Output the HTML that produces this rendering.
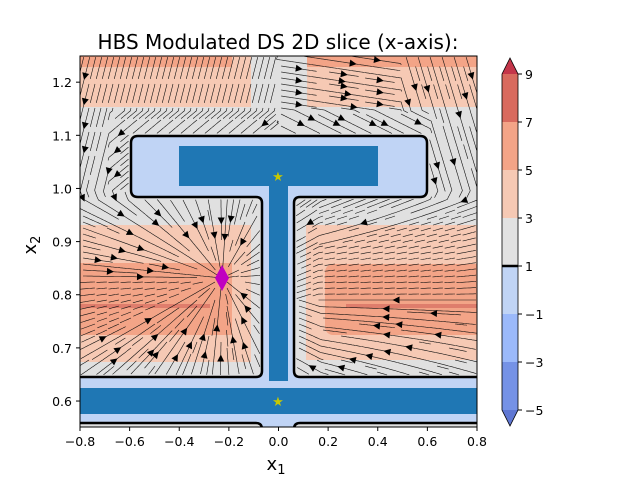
<!DOCTYPE html>
<html><head><meta charset="utf-8"><style>
body{margin:0;background:#fff}
svg text{font-family:"DejaVu Sans","Liberation Sans",sans-serif}
</style></head><body>
<svg id="chart" width="640" height="480" xmlns="http://www.w3.org/2000/svg">
<defs><clipPath id="pc"><rect x="80" y="56" width="397" height="371"/></clipPath></defs>
<g id="plot" clip-path="url(#pc)">
<rect x="80" y="56" width="397" height="371" fill="#e0e0e0"/>
<rect x="80" y="56" width="171" height="51" fill="#f6c9b4"/>
<rect x="307" y="56" width="170" height="51" fill="#f6c9b4"/>
<rect x="80" y="56" width="152" height="11" fill="#f3a487"/>
<rect x="307" y="56" width="170" height="11" fill="#f3a487"/>
<rect x="80" y="225" width="171" height="137" fill="#f6c9b4"/>
<rect x="80" y="263" width="152" height="72" fill="#f3a487"/>
<rect x="80" y="304" width="130" height="4" fill="#df7d6c"/>
<rect x="306" y="225" width="171" height="135" fill="#f6c9b4"/>
<rect x="325" y="264" width="160" height="71" rx="8" fill="#f3a487"/>
<rect x="346" y="304" width="131" height="4" fill="#df7d6c"/>
<path d="M131,143 Q131,136 138,136 L420,136 Q427,136 427,143 L427,190 Q427,197 420,197 L300,197 Q294,197 294,203 L294,371 Q294,377 300,377 L490,377 L490,423 L300,423 Q294,423 294,429 L262,429 Q262,423 256,423 L70,423 L70,377 L256,377 Q262,377 262,371 L262,203 Q262,197 256,197 L138,197 Q131,197 131,190 Z" fill="#c0d4f5" stroke="#000" stroke-width="2.5"/>
<rect x="179" y="146" width="199" height="40" fill="#1f77b4"/>
<rect x="269" y="186" width="19" height="195" fill="#1f77b4"/>
<rect x="80" y="388" width="397" height="26" fill="#1f77b4"/>
<g id="streams"></g>
<text x="278" y="181" font-size="13" fill="#c8c800" text-anchor="middle">★</text>
<text x="278" y="406" font-size="13" fill="#c8c800" text-anchor="middle">★</text>
<polygon points="222,265 229,278 222,291 215,278" fill="#c000c0"/>
</g>
<rect x="80" y="56" width="397" height="371" fill="none" stroke="#000" stroke-width="1"/>
<g id="axes"></g>
<text x="278" y="49" font-size="20" text-anchor="middle">HBS Modulated DS 2D slice (x-axis):</text>
<text x="276" y="470" font-size="18" text-anchor="middle">x<tspan font-size="13" dy="4">1</tspan></text>
<text x="36" y="245" font-size="18" text-anchor="middle" transform="rotate(-90 36 245)">x<tspan font-size="13" dy="4">2</tspan></text>
<g id="cbar"></g>
</svg>
<script>
const xTicks=[-0.8,-0.6,-0.4,-0.2,0.0,0.2,0.4,0.6,0.8];
const yTicks=[0.6,0.7,0.8,0.9,1.0,1.1,1.2];
const cbLevels=[-5,-3,-1,1,3,5,7,9];
const cbColors=["#7592e6","#9bb9fa","#c0d4f5","#e2e2e2","#f6c9b4","#f3a487","#d86a5e"];
const NS="http://www.w3.org/2000/svg";
const sx=v=>80+(v+0.8)/1.6*397;
const sy=v=>427.6-(v-0.55)/0.7*372;
function mk(t,a,p){const e=document.createElementNS(NS,t);for(const k in a)e.setAttribute(k,a[k]);p.appendChild(e);return e;}
const fmt=v=>(v<0?"\u2212":"")+Math.abs(v).toFixed(1);
const ax=document.getElementById('axes');
xTicks.forEach(v=>{const x=sx(v);
const l=mk('line',{x1:x,x2:x,y1:427,y2:431,stroke:'#000'},ax);


const t=mk('text',{x:x,y:446,'font-size':12.5,'text-anchor':'middle'},ax);t.textContent=fmt(v);

});
yTicks.forEach(v=>{const y=sy(v);
const l=mk('line',{x1:76,x2:80,y1:y,y2:y,stroke:'#000'},ax);


const t=mk('text',{x:72,y:y+5,'font-size':12.5,'text-anchor':'end'},ax);t.textContent=v.toFixed(1);

});
const cb=document.getElementById('cbar');
const cy=v=>410-(v+5)/14*336;
for(let i=0;i<cbColors.length;i++){const r=mk('rect',{x:502,y:cy(cbLevels[i+1]),width:16,height:cy(cbLevels[i])-cy(cbLevels[i+1]),fill:cbColors[i]},cb);

}
const tt=mk('polygon',{points:`502,${cy(9)} 518,${cy(9)} 510,58`,fill:'#c4364a'},cb);


const tb=mk('polygon',{points:`502,${cy(-5)} 518,${cy(-5)} 510,426`,fill:'#5f77d3'},cb);


mk('path',{d:`M502,${cy(9)} L510,58 L518,${cy(9)} L518,${cy(-5)} L510,426 L502,${cy(-5)} Z`,fill:'none',stroke:'#000','stroke-width':0.8},cb);
mk('line',{x1:502,x2:518,y1:cy(1),y2:cy(1),stroke:'#000','stroke-width':2.5},cb);
cbLevels.forEach(v=>{mk('line',{x1:518,x2:522,y1:cy(v),y2:cy(v),stroke:'#000'},cb);
const t=mk('text',{x:525,y:cy(v)+5,'font-size':12.5},cb);t.textContent=(v<0?"\u2212":"")+Math.abs(v);

});
function blocked(x,y){
 if(x<80||x>477||y<56||y>427)return true;
 if(x>129&&x<429&&y>134&&y<199)return true;
 if(x>260&&x<296&&y>134)return true;
 if(y>375)return true;return false;}
function field(x,y){
 if(y>199&&x<262){let dx=222-x,dy=278-y;return [dx,dy];}
 if(y>199&&x>294){return [-1,(300-y)*0.004-(x<320?(y<300?-0.3:0.3):0)];}
 if(x<278){let vy=1,vx=-0.25;if(y>110&&y<205&&x>110)vx=-1.2;if(y>190)vx=0.3+(y-190)*0.02;return [vx,vy];}
 let vx=1,vy=0.15;if(x>400){vx=0.3;vy=1;}if(y>110&&x<430)vx=1.2,vy=0.6;if(y>190){vx=-0.5;vy=1;}return [vx,vy];}
const sg=document.getElementById('streams');
const occ={};const G=6;const cell=(x,y)=>Math.floor(x/G)+','+Math.floor(y/G);
function trace(x0,y0,dir,mine){let x=x0,y=y0,pts=[];
 for(let s=0;s<200;s++){let [vx,vy]=field(x,y);const n=Math.hypot(vx,vy);
  if(y>199&&x<262&&Math.hypot(222-x,278-y)<5)break;
  vx/=n||1;vy/=n||1;const nx=x+dir*vx*1.5,ny=y+dir*vy*1.5;if(blocked(nx,ny))break;
  const c=cell(nx,ny);if(occ[c]&&!mine[c])break;mine[c]=1;x=nx;y=ny;pts.push([x,y]);}
 return pts;}
for(let gy=60;gy<375;gy+=G)for(let gx=83;gx<476;gx+=G){
 if(blocked(gx,gy)||occ[cell(gx,gy)])continue;
 const mine={};mine[cell(gx,gy)]=1;
 const b=trace(gx,gy,-1,mine).reverse();const f=trace(gx,gy,1,mine);
 const pts=b.concat([[gx,gy]],f);
 if(pts.length<8)continue;Object.assign(occ,mine);
 const p=mk('path',{d:'M'+pts.map(p=>p[0].toFixed(1)+','+p[1].toFixed(1)).join(' L'),fill:'none',stroke:'#111','stroke-width':0.6},sg);
 
 
 if(pts.length<20)continue;
 const m=Math.floor(pts.length/2),a=pts[m],c=pts[m+1];
 const ang=Math.atan2(c[1]-a[1],c[0]-a[0])*180/Math.PI;
 const ar=mk('polygon',{points:'4,0 -3,-3.5 -3,3.5',fill:'#000',transform:`translate(${a[0]},${a[1]}) rotate(${ang})`},sg);
 
 
}
</script>
</body></html>
